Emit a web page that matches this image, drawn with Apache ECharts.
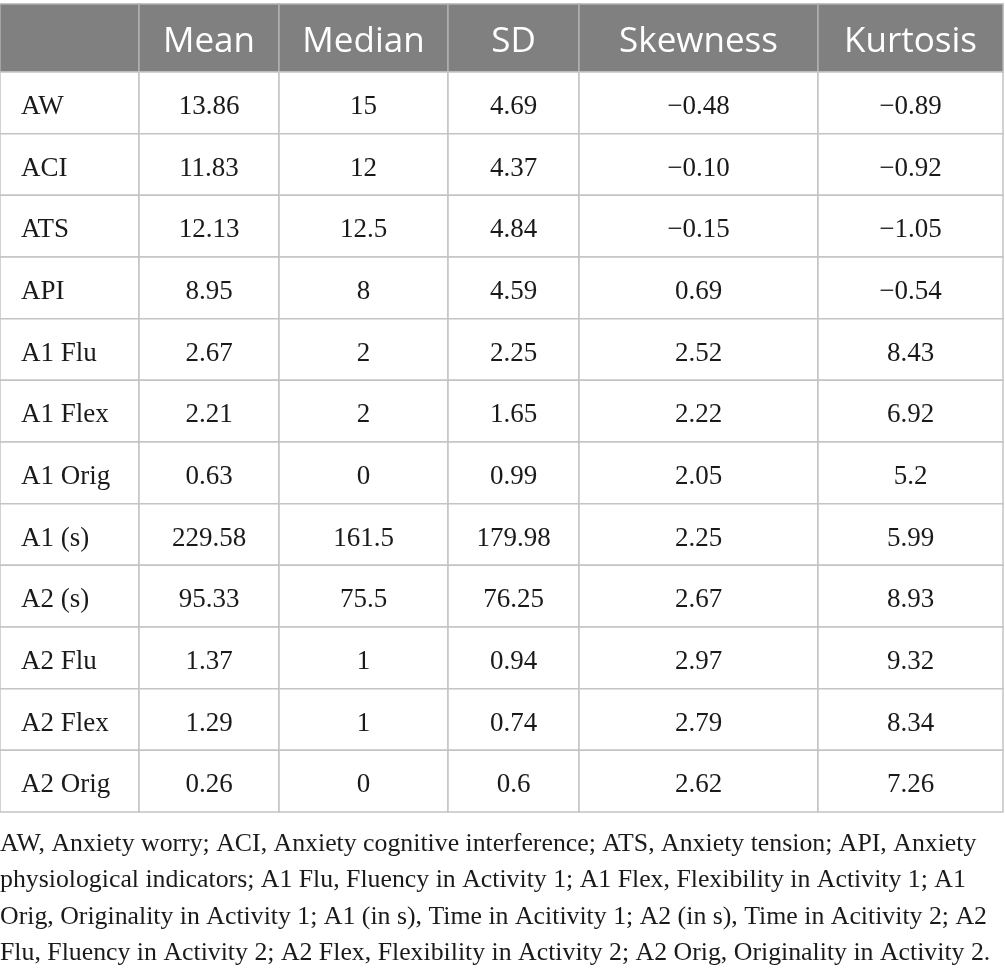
<!DOCTYPE html>
<html>
<head>
<meta charset="utf-8">
<script src="https://cdn.jsdelivr.net/npm/echarts@6/dist/echarts.min.js"></script>
<style>
  html, body { margin: 0; padding: 0; background: #fff; }
  #main { width: 1005px; height: 977px; }
</style>
</head>
<body>
<div id="main"></div>
<script>
// table content
const columns = ['', 'Mean', 'Median', 'SD', 'Skewness', 'Kurtosis']
const variables = ['AW', 'ACI', 'ATS', 'API', 'A1 Flu', 'A1 Flex', 'A1 Orig', 'A1 (s)', 'A2 (s)', 'A2 Flu', 'A2 Flex', 'A2 Orig']
const means = ['13.86', '11.83', '12.13', '8.95', '2.67', '2.21', '0.63', '229.58', '95.33', '1.37', '1.29', '0.26']
const medians = ['15', '12', '12.5', '8', '2', '2', '0', '161.5', '75.5', '1', '1', '0']
const sds = ['4.69', '4.37', '4.84', '4.59', '2.25', '1.65', '0.99', '179.98', '76.25', '0.94', '0.74', '0.6']
const skewness = ['−0.48', '−0.10', '−0.15', '0.69', '2.52', '2.22', '2.05', '2.25', '2.67', '2.97', '2.79', '2.62']
const kurtosis = ['−0.89', '−0.92', '−1.05', '−0.54', '8.43', '6.92', '5.2', '5.99', '8.93', '9.32', '8.34', '7.26']
const footnoteLines = [
  'AW, Anxiety worry; ACI, Anxiety cognitive interference; ATS, Anxiety tension; API, Anxiety',
  'physiological indicators; A1 Flu, Fluency in Activity 1; A1 Flex, Flexibility in Activity 1; A1',
  'Orig, Originality in Activity 1; A1 (in s), Time in Acitivity 1; A2 (in s), Time in Acitivity 2; A2',
  'Flu, Fluency in Activity 2; A2 Flex, Flexibility in Activity 2; A2 Orig, Originality in Activity 2.'
]

// layout (column edges in x-axis units)
const colEdges = [0, 139, 279, 448, 579, 818, 1003]

const headerData = columns.map((t, c) => ({ value: [c, 0], text: t }))
const bodyData = []
variables.forEach((v, r) => {
  const row = [v, means[r], medians[r], sds[r], skewness[r], kurtosis[r]]
  row.forEach((t, c) => bodyData.push({ value: [c, r], text: t }))
})

function cellRenderer(isHeader) {
  return function (params, api) {
    const c = api.value(0)
    const r = api.value(1)
    const item = (isHeader ? headerData : bodyData)[params.dataIndex]
    const p0 = api.coord([colEdges[c], r])
    const p1 = api.coord([colEdges[c + 1], r])
    const h = api.size([0, 1])[1]
    return {
      type: 'group',
      children: [
        {
          type: 'rect',
          shape: { x: p0[0], y: p0[1] - h / 2, width: p1[0] - p0[0], height: h },
          style: { fill: isHeader ? '#808080' : '#fff', stroke: isHeader ? '#b0b0b0' : '#c4c4c4', lineWidth: 1.5 }
        },
        {
          type: 'text',
          z2: 10,
          style: {
            text: item.text,
            x: c === 0 ? p0[0] + 21 : (p0[0] + p1[0]) / 2,
            y: p0[1] + 4,
            align: c === 0 ? 'left' : 'center',
            verticalAlign: 'middle',
            fill: isHeader ? '#fff' : '#1a1a1a',
            fontFamily: isHeader ? 'Open Sans' : 'Liberation Serif',
            fontSize: isHeader ? 35 : 27
          }
        }
      ]
    }
  }
}

var myChart = echarts.init(document.getElementById('main'))
myChart.setOption({
  animation: false,
  grid: [
    { left: 0, width: 1005, top: 4, height: 68 },
    { left: 0, width: 1005, top: 72, height: 740 }
  ],
  xAxis: [
    { type: 'value', gridIndex: 0, min: 0, max: 1005, show: false },
    { type: 'value', gridIndex: 1, min: 0, max: 1005, show: false }
  ],
  yAxis: [
    { type: 'category', gridIndex: 0, data: ['header'], inverse: true, show: false },
    { type: 'category', gridIndex: 1, data: variables, inverse: true, show: false }
  ],
  graphic: footnoteLines.map((line, i) => ({
    type: 'text',
    left: 0,
    top: 831 + i * 36.5,
    style: { text: line, fill: '#1a1a1a', fontFamily: 'Liberation Serif', fontSize: 25.8 }
  })),
  series: [
    {
      type: 'custom',
      xAxisIndex: 0,
      yAxisIndex: 0,
      clip: false,
      renderItem: cellRenderer(true),
      data: headerData
    },
    {
      type: 'custom',
      xAxisIndex: 1,
      yAxisIndex: 1,
      clip: false,
      renderItem: cellRenderer(false),
      data: bodyData
    }
  ]
})
</script>
</body>
</html>
